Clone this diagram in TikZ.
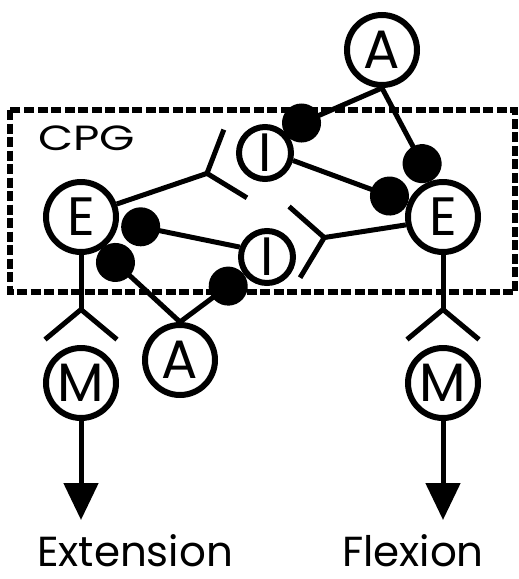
\documentclass[tikz,border=0pt]{standalone}
\usepackage{fontspec}
\setmainfont{Poppins}
\usetikzlibrary{arrows.meta}

\tikzset{
  cell/.style={circle, draw, line width=6pt, minimum size=70pt, inner sep=0pt,
    font=\fontsize{54}{54}\selectfont},
  small cell/.style={cell, minimum size=52pt},
  inh/.style={line width=5pt, -{Circle[length=39pt]}},
  exc/.style={line width=5pt, -{Straight Barb[reversed, length=30pt, width=72pt]}},
  motor out/.style={line width=5pt, -{Triangle[length=37pt, width=34pt]}},
  cpg box/.style={line width=5.5pt, dash pattern=on 10pt off 3.5pt},
  caption/.style={anchor=base, inner sep=0pt, text depth=0pt, font=\fontsize{42}{42}\selectfont},
}

\begin{document}
\begin{tikzpicture}[x=1pt, y=-1pt]
  \useasboundingbox (0,0) rectangle (519,579);

  % CPG box
  \draw[cpg box] (10,110) rectangle (515,292);
  \node[anchor=base west, inner sep=0pt, font=\fontsize{35}{35}\selectfont] (cpg) at (38,150)
    {\scalebox{1.3}[1]{CPG}};

  % cells
  \node[cell]       (A1) at (382,50)  {A};
  \node[small cell] (I1) at (265,153) {I};
  \node[cell]       (E1) at (81,217)  {E};
  \node[cell]       (E2) at (443,217) {E};
  \node[small cell] (I2) at (267,257) {I};
  \node[cell]       (A2) at (180,360) {A};
  \node[cell]       (M1) at (81,383)  {M};
  \node[cell]       (M2) at (443,383) {M};

  % inhibitory synapses
  \draw[inh] (A1.south) -- (I1.50);
  \draw[inh] (A1.south) -- (E2.108);
  \draw[inh] (I1.-15) -- (E2.158);
  \draw[inh, shorten >=3pt] (I2.160) -- (E1.-8);
  \draw[inh] (A2.north) -- (I2.217);
  \draw[inh] (A2.north) -- (E1.-58);

  % excitatory synapses
  \draw[exc] (E1.20) -- (I1.200);
  \draw[exc] (E2.192) -- (I2.30);
  \draw[exc, shorten >=3pt] (E1.south) -- (M1.north);
  \draw[exc, shorten >=3pt] (E2.south) -- (M2.north);

  % outputs
  \coordinate (extend)  at (81,520);
  \coordinate (flexend) at (443,520);
  \draw[motor out] (M1.south) -- (extend);
  \draw[motor out] (M2.south) -- (flexend);

  \node[caption] (extlabel)  at (135,566) {Extension};
  \node[caption] (flexlabel) at (413,566) {Flexion};
\end{tikzpicture}
\end{document}
